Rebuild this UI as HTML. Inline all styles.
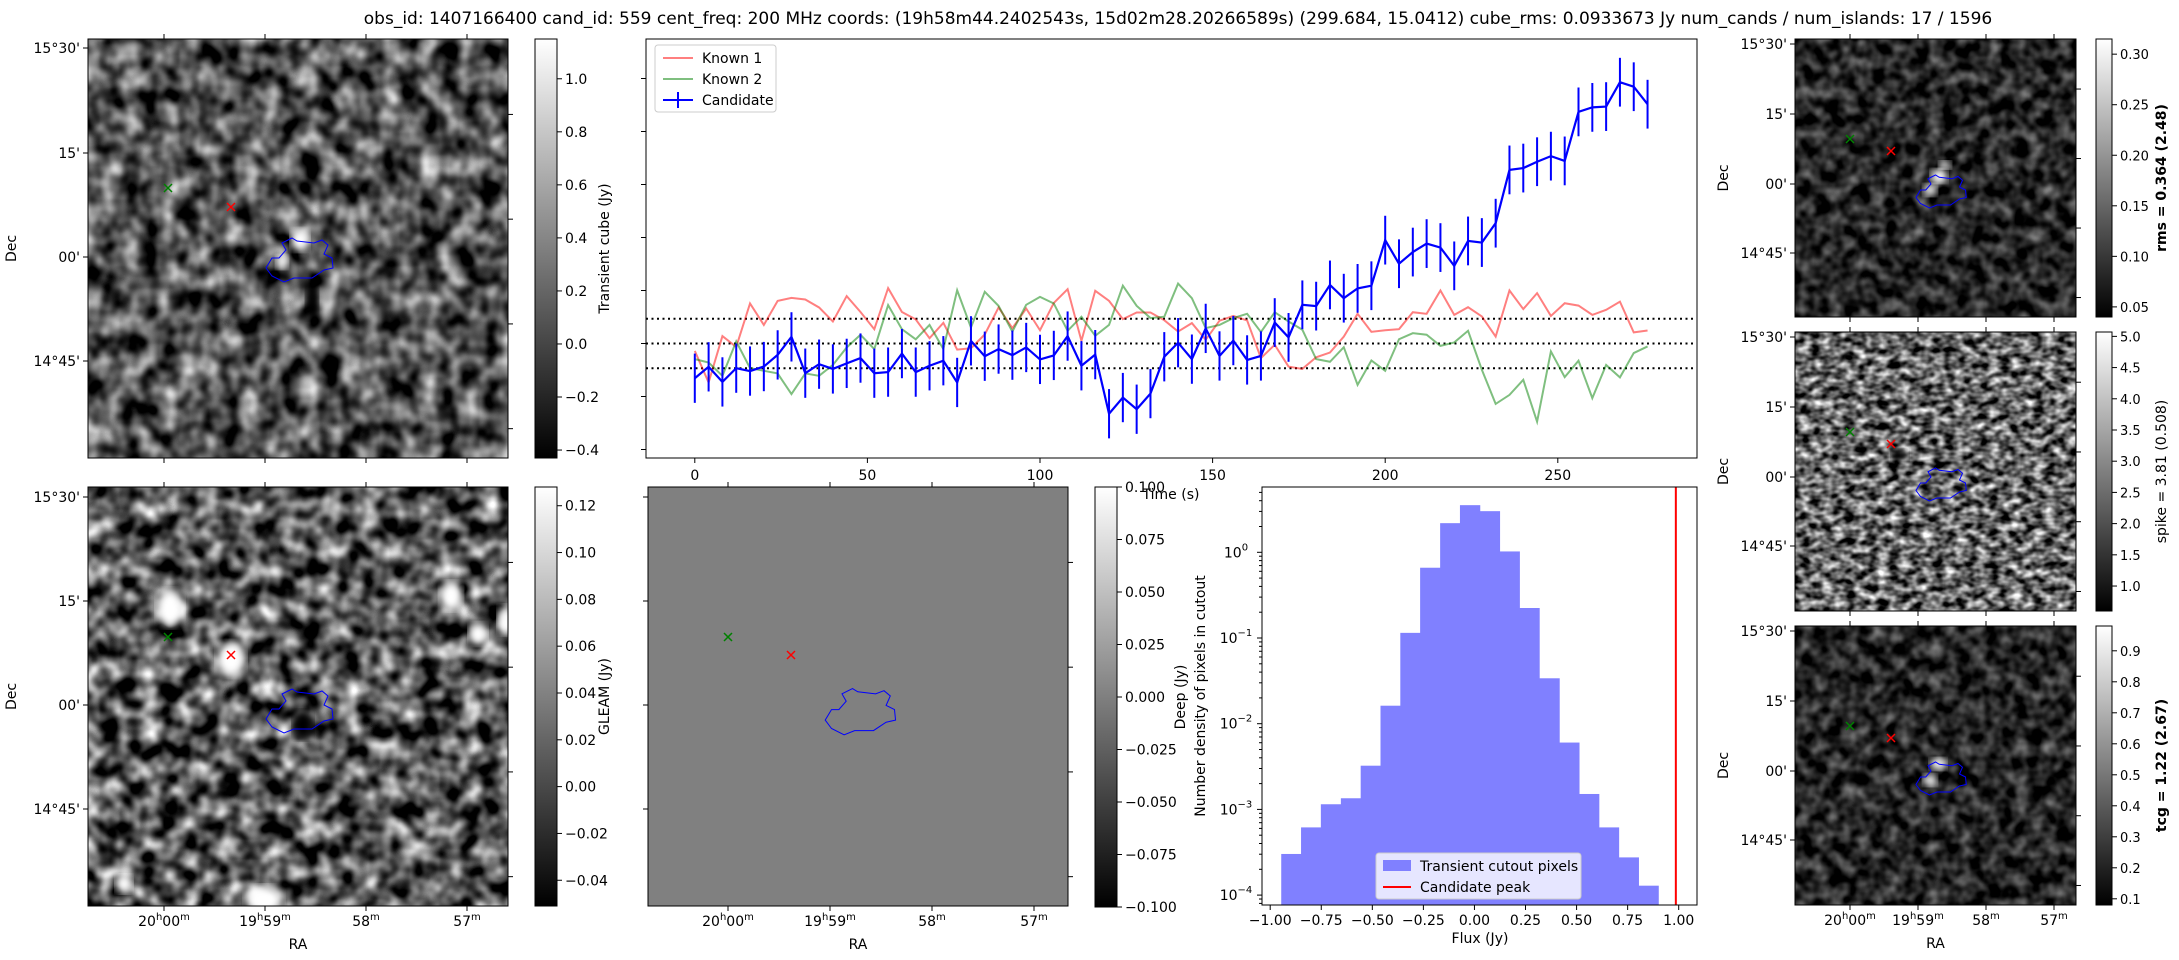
<!DOCTYPE html>
<html><head><meta charset="utf-8">
<style>
html,body{margin:0;padding:0;background:#fff;}
svg{display:block;font-family:"DejaVu Sans","Liberation Sans",sans-serif;}
text{fill:#000;}
filter{color-interpolation-filters:sRGB;}
</style></head>
<body>
<svg id="fig" xmlns="http://www.w3.org/2000/svg" width="2179" height="960" viewBox="0 0 2179 960">
<defs>
 <filter id="nz1" x="0" y="0" width="100%" height="100%" color-interpolation-filters="sRGB"><feTurbulence type="fractalNoise" baseFrequency="0.05 0.045" numOctaves="2" seed="3"/><feColorMatrix type="matrix" values="1.5 0 0 0 -0.42  1.5 0 0 0 -0.42  1.5 0 0 0 -0.42  0 0 0 0 1"/></filter>
 <filter id="nz2" x="0" y="0" width="100%" height="100%" color-interpolation-filters="sRGB"><feTurbulence type="fractalNoise" baseFrequency="0.05" numOctaves="2" seed="11"/><feColorMatrix type="matrix" values="1.8 0 0 0 -0.55  1.8 0 0 0 -0.55  1.8 0 0 0 -0.55  0 0 0 0 1"/></filter>
 <filter id="nz3" x="0" y="0" width="100%" height="100%" color-interpolation-filters="sRGB"><feTurbulence type="fractalNoise" baseFrequency="0.07" numOctaves="2" seed="5"/><feColorMatrix type="matrix" values="0.9 0 0 0 -0.3  0.9 0 0 0 -0.3  0.9 0 0 0 -0.3  0 0 0 0 1"/></filter>
 <filter id="nz4" x="0" y="0" width="100%" height="100%" color-interpolation-filters="sRGB"><feTurbulence type="fractalNoise" baseFrequency="0.09 0.13" numOctaves="2" seed="8"/><feColorMatrix type="matrix" values="1.8 0 0 0 -0.5  1.8 0 0 0 -0.5  1.8 0 0 0 -0.5  0 0 0 0 1"/></filter>
 <filter id="nz5" x="0" y="0" width="100%" height="100%" color-interpolation-filters="sRGB"><feTurbulence type="fractalNoise" baseFrequency="0.07" numOctaves="2" seed="21"/><feColorMatrix type="matrix" values="0.9 0 0 0 -0.3  0.9 0 0 0 -0.3  0.9 0 0 0 -0.3  0 0 0 0 1"/></filter>
 <filter id="blur4"><feGaussianBlur stdDeviation="4"/></filter>
 <linearGradient id="gray" x1="0" y1="1" x2="0" y2="0"><stop offset="0" stop-color="#000"/><stop offset="1" stop-color="#fff"/></linearGradient>
</defs>
<text x="1178" y="24" font-size="17" text-anchor="middle">obs_id: 1407166400 cand_id: 559 cent_freq: 200 MHz coords: (19h58m44.2402543s, 15d02m28.20266589s) (299.684, 15.0412) cube_rms: 0.0933673 Jy num_cands / num_islands: 17 / 1596</text>
<g id="panels"></g>
</svg>
<script>
// ---------- light curve data ----------
const times = [0,4,8,12,16,20,24,28,32,36,40,44,48,52,56,60,64,68,72,76,80,84,88,92,96,100,104,108,112,116,120,124,128,132,136,140,144,148,152,156,160,164,168,172,176,180,184,188,192,196,200,204,208,212,216,220,224,228,232,236,240,244,248,252,256,260,264,268,272,276];
const candidateFlux = [-0.131,-0.088,-0.145,-0.093,-0.104,-0.087,-0.043,0.025,-0.112,-0.078,-0.096,-0.075,-0.055,-0.112,-0.108,-0.038,-0.108,-0.084,-0.065,-0.147,0.010,-0.048,-0.021,-0.044,-0.015,-0.060,-0.045,0.028,-0.084,-0.042,-0.265,-0.204,-0.248,-0.189,-0.050,0.003,-0.059,0.057,-0.047,0.011,-0.062,-0.047,0.079,0.023,0.146,0.141,0.221,0.171,0.208,0.218,0.390,0.301,0.345,0.377,0.362,0.293,0.387,0.381,0.454,0.655,0.662,0.686,0.707,0.689,0.874,0.891,0.894,0.986,0.969,0.903];
const candidateErr = [0.093,0.093,0.093,0.093,0.093,0.093,0.093,0.093,0.093,0.093,0.093,0.093,0.093,0.093,0.093,0.093,0.093,0.093,0.093,0.093,0.093,0.093,0.093,0.093,0.093,0.093,0.093,0.093,0.093,0.093,0.093,0.093,0.093,0.093,0.093,0.093,0.093,0.093,0.093,0.093,0.093,0.093,0.092,0.092,0.092,0.092,0.092,0.092,0.092,0.092,0.092,0.092,0.092,0.092,0.092,0.092,0.092,0.092,0.092,0.092,0.092,0.092,0.092,0.092,0.092,0.092,0.092,0.092,0.092,0.092];
const known1Flux = [-0.028,-0.147,0.028,-0.013,0.151,0.070,0.161,0.172,0.166,0.136,0.083,0.179,0.119,0.054,0.209,0.119,0.091,0.020,0.078,-0.023,-0.018,0.034,0.136,0.058,0.132,0.050,0.153,0.205,0.010,0.199,0.161,0.092,0.117,0.117,0.088,0.045,0.077,0.014,0.086,0.104,0.087,-0.055,-0.005,-0.087,-0.096,-0.052,-0.034,0.026,0.112,0.044,0.050,0.054,0.118,0.112,0.200,0.108,0.137,0.102,0.026,0.200,0.130,0.190,0.104,0.152,0.143,0.108,0.127,0.158,0.042,0.049];
const known2Flux = [-0.059,-0.072,-0.122,0.008,-0.093,-0.103,-0.113,-0.191,-0.113,-0.122,-0.081,-0.015,0.033,-0.021,0.145,0.054,0.016,0.070,-0.021,0.201,0.060,0.195,0.142,0.045,0.146,0.176,0.151,0.048,0.101,0.029,0.070,0.218,0.142,0.096,0.101,0.226,0.171,0.058,0.070,0.096,0.112,0.043,0.118,0.083,0.052,-0.059,-0.069,-0.014,-0.156,-0.064,-0.103,0.016,0.039,0.033,-0.009,0.004,0.048,-0.099,-0.228,-0.194,-0.137,-0.295,-0.030,-0.127,-0.065,-0.206,-0.081,-0.128,-0.036,-0.011];
const cubeRms = 0.0934;
const lcXTicks = [0,50,100,150,200,250];
// ---------- histogram data ----------
const histEdges = [-0.946,-0.849,-0.752,-0.654,-0.557,-0.460,-0.363,-0.266,-0.168,-0.071,0.026,0.123,0.220,0.317,0.415,0.512,0.609,0.706,0.803,0.900];
const histLog10Density = [-3.52,-3.21,-2.94,-2.87,-2.49,-1.79,-0.94,-0.18,0.34,0.55,0.48,0.01,-0.65,-1.47,-2.22,-2.82,-3.21,-3.56,-3.89];
const candidatePeak = 0.986;
const histXTicks = [-1.00,-0.75,-0.50,-0.25,0.00,0.25,0.50,0.75,1.00];
const histYTickExp = [0,-1,-2,-3,-4];
// ---------- colorbar ticks ----------
const cbTransientTicks = [-0.4,-0.2,0.0,0.2,0.4,0.6,0.8,1.0];
const cbGleamTicks = [-0.04,-0.02,0.00,0.02,0.04,0.06,0.08,0.10,0.12];
const cbDeepTicks = [-0.100,-0.075,-0.050,-0.025,0.000,0.025,0.050,0.075,0.100];
const cbRmsTicks = [0.05,0.10,0.15,0.20,0.25,0.30];
const cbSpikeTicks = [1.0,1.5,2.0,2.5,3.0,3.5,4.0,4.5,5.0];
const cbTcgTicks = [0.1,0.2,0.3,0.4,0.5,0.6,0.7,0.8,0.9];

const NS='http://www.w3.org/2000/svg';
const root=document.getElementById('panels');
function el(tag,attrs,parent,txt){const e=document.createElementNS(NS,tag);for(const k in attrs)e.setAttribute(k,attrs[k]);if(txt!==undefined)e.textContent=txt;(parent||root).appendChild(e);return e;}

function imagePanel(name,x,y,w,h,filt,decLabels,decY,raX,showRA,opts){
  const g=el('g',{});
  
  
  el('clipPath',{id:'c'+name},g);
  el('rect',{x:x,y:y,width:w,height:h},g.lastChild);
  const ig=el('g',{'clip-path':'url(#c'+name+')'},g);
  if(filt){el('rect',{x:x,y:y,width:w,height:h,fill:'#000'},ig);el('rect',{x:x,y:y,width:w,height:h,filter:'url(#'+filt+')'},ig);}
  else el('rect',{x:x,y:y,width:w,height:h,fill:'#808080'},ig);
  (opts.blobs||[]).forEach(b=>{el('ellipse',{cx:b[0],cy:b[1],rx:b[2],ry:b[3],fill:'#fff',filter:'url(#blur4)'},ig);});
  (opts.darks||[]).forEach(b=>{el('ellipse',{cx:b[0],cy:b[1],rx:b[2],ry:b[3],fill:'#000',filter:'url(#blur4)'},ig);});
  el('rect',{x:x,y:y,width:w,height:h,fill:'none',stroke:'#000','stroke-width':1},g);
  const cp=el('path',{d:opts.contour,fill:'none',stroke:'#0000ff','stroke-width':1},g);
  
  
  const mk=(px,py,col,nm)=>{const m=el('path',{d:`M${px-4},${py-4}L${px+4},${py+4}M${px-4},${py+4}L${px+4},${py-4}`,stroke:col,'stroke-width':1.5},g);
    
    };
  mk(opts.green[0],opts.green[1],'#008000','known-source-2-marker');
  mk(opts.red[0],opts.red[1],'#ff0000','known-source-1-marker');
  const fs=opts.fs||14;
  decY.forEach((dy,i)=>{el('line',{x1:x-5,y1:dy,x2:x,y2:dy,stroke:'#000'},g);
    if(decLabels)el('text',{x:x-8,y:dy+5,'font-size':fs,'text-anchor':'end'},g,decLabels[i]);});
  [0.18,0.43,0.68,0.93].forEach(f=>{el('line',{x1:x+w,y1:y+h*f,x2:x+w+5,y2:y+h*f,stroke:'#000'},g);});
  raX.forEach(rx=>{el('line',{x1:rx,y1:y+h,x2:rx,y2:y+h+5,stroke:'#000'},g);el('line',{x1:rx,y1:y-5,x2:rx,y2:y,stroke:'#000'},g);});
  if(showRA){
    const lab=[['20','h','00','m'],['19','h','59','m'],['58','m'],['57','m']];
    raX.forEach((rx,i)=>{const t=el('text',{x:rx,y:y+h+20,'font-size':fs,'text-anchor':'middle'},g);
      const l=lab[i];for(let k=0;k<l.length;k++){const s=el('tspan',{},t,l[k]);if(k%2==1){s.setAttribute('dy','-6');s.setAttribute('font-size','10');}else if(k>0){s.setAttribute('dy','6');}}});
    el('text',{x:x+w/2,y:y+h+43,'font-size':14,'text-anchor':'middle'},g,'RA');
  }
  if(opts.decTitle)el('text',{x:opts.decTitle,y:y+h/2,'font-size':14,'text-anchor':'middle',transform:`rotate(-90 ${opts.decTitle} ${y+h/2})`},g,'Dec');
  return g;
}
function colorbar(name,x,y,w,h,ticks,vmin,vmax,fmt,label,labX,bold,fs){
  const g=el('g',{});
  
  
  el('rect',{x:x,y:y,width:w,height:h,fill:'url(#gray)',stroke:'#000','stroke-width':1},g);
  const yc=v=>y+h-(v-vmin)/(vmax-vmin)*h;
  ticks.forEach(t=>{const ty=yc(t);el('line',{x1:x+w,y1:ty,x2:x+w+5,y2:ty,stroke:'#000'},g);
    el('text',{x:x+w+8,y:ty+5,'font-size':fs||14},g,fmt(t));});
  const lt=el('text',{x:labX,y:y+h/2,'font-size':14,'text-anchor':'middle','font-weight':bold?'bold':'normal',transform:`rotate(-90 ${labX} ${y+h/2})`},g,label);
  
  
}
const decL=["15°30'","15'","00'","14°45'"];
const contourBig=(ox,oy,s)=>{const p=[[0,-3],[10,-8],[15,-5],[32,-3],[40,-6],[46,-1],[42,8],[50,12],[51,22],[42,24],[30,32],[12,32],[2,36],[-10,30],[-16,22],[-10,12],[-3,12],[4,4]];return 'M'+p.map(q=>(ox+q[0]*s)+','+(oy+q[1]*s)).join('L')+'Z';};

imagePanel('transient-cube-image',88,39,420,419,'nz1',decL,[48,153,257,361],[164,265,366,467],false,
  {green:[168,188],red:[231,207],contour:contourBig(282,246,1),blobs:[[300,240,9,11],[282,262,6,7]],darks:[[312,300,6,18]],decTitle:16});
colorbar('transient-colorbar',535,39,22,419,cbTransientTicks,-0.43,1.15,v=>v.toFixed(1).replace('-','−'),'Transient cube (Jy)',609,false);
imagePanel('gleam-image',88,487,420,419,'nz2',decL,[497,601,705,809],[164,265,366,467],true,
  {green:[168,637],red:[231,655],contour:contourBig(282,697,1),blobs:[[170,608,13,18],[231,659,14,17],[451,596,11,14],[478,634,9,11],[506,620,8,14],[124,884,8,9],[264,900,18,14]],darks:[[303,725,10,14]],decTitle:16});
colorbar('gleam-colorbar',535,487,22,419,cbGleamTicks,-0.051,0.128,v=>v.toFixed(2).replace('-','−'),'GLEAM (Jy)',609,false);
imagePanel('deep-image',648,487,420,419,null,null,[497,601,705,809],[728,830,932,1034],true,
  {green:[728,637],red:[791,655],contour:contourBig(842,697,1.05)});
colorbar('deep-colorbar',1095,487,22,420,cbDeepTicks,-0.1,0.1,v=>v.toFixed(3).replace('-','−'),'Deep (Jy)',1185,false);
const rDec=(y0)=>[y0+5,y0+75,y0+145,y0+214];
imagePanel('rms-image',1795,39,281,278,'nz3',decL,rDec(39),[1850,1918,1986,2054],false,
  {green:[1850,139],red:[1891,151],contour:contourBig(1928,181,0.75),blobs:[[1939,176,8,7],[1930,190,7,6],[1945,165,6,4]],decTitle:1728});
colorbar('rms-colorbar',2096,39,16,278,cbRmsTicks,0.04,0.315,v=>v.toFixed(2),'rms = 0.364 (2.48)',2166,true,13);
imagePanel('spike-image',1795,332,281,279,'nz4',decL,rDec(332),[1850,1918,1986,2054],false,
  {green:[1850,432],red:[1891,444],contour:contourBig(1928,474,0.75),darks:[[1900,455,8,6]],decTitle:1728});
colorbar('spike-colorbar',2096,332,16,279,cbSpikeTicks,0.6,5.07,v=>v.toFixed(1),'spike = 3.81 (0.508)',2166,false,13);
imagePanel('tcg-image',1795,626,281,279,'nz5',decL,rDec(626),[1850,1918,1986,2054],true,
  {green:[1850,726],red:[1891,738],contour:contourBig(1928,768,0.75),blobs:[[1938,764,8,6],[1930,780,7,6]],decTitle:1728});
colorbar('tcg-colorbar',2096,626,16,279,cbTcgTicks,0.08,0.98,v=>v.toFixed(1),'tcg = 1.22 (2.67)',2166,true,13);

// ---------- light curve ----------
const LX0=646,LX1=1697,LY0=39,LY1=458;
const xL=t=>694.8+3.452*t;
const yL=v=>343.5-265*v;
const lc=el('g',{});


el('clipPath',{id:'clc'},lc);el('rect',{x:LX0,y:LY0,width:LX1-LX0,height:LY1-LY0},lc.lastChild);
const lcp=el('g',{'clip-path':'url(#clc)'},lc);
[cubeRms,0,-cubeRms].forEach((v,i)=>{const l=el('line',{x1:LX0,x2:LX1,y1:yL(v),y2:yL(v),stroke:'#000','stroke-width':2,'stroke-dasharray':'2,3.5'},lcp);
  
  });
const line=(arr,col,op,nm,w)=>{const p=el('polyline',{points:arr.map((v,i)=>xL(times[i])+','+yL(v)).join(' '),fill:'none',stroke:col,'stroke-opacity':op,'stroke-width':w},lcp);
  
  };
line(known1Flux,'#ff0000',0.5,'known-1-line',2);
line(known2Flux,'#008000',0.5,'known-2-line',2);
candidateFlux.forEach((v,i)=>{const eb=el('line',{x1:xL(times[i]),x2:xL(times[i]),y1:yL(v-candidateErr[i]),y2:yL(v+candidateErr[i]),stroke:'#0000ff','stroke-width':2},lcp);
  
  });
line(candidateFlux,'#0000ff',1,'candidate-line',2.2);
el('rect',{x:LX0,y:LY0,width:LX1-LX0,height:LY1-LY0,fill:'none',stroke:'#000'},lc);
lcXTicks.forEach(t=>{el('line',{x1:xL(t),x2:xL(t),y1:LY1,y2:LY1+5,stroke:'#000'},lc);el('text',{x:xL(t),y:LY1+22,'font-size':14,'text-anchor':'middle'},lc,String(t));});
cbTransientTicks.forEach(v=>{el('line',{x1:LX0-5,x2:LX0,y1:yL(v),y2:yL(v),stroke:'#000'},lc);});
el('text',{x:1171,y:499,'font-size':14,'text-anchor':'middle'},lc,'Time (s)');
const lg=el('g',{},lc);


el('rect',{x:655,y:45,width:121,height:67,rx:3,fill:'#fff','fill-opacity':0.8,stroke:'#ccc'},lg);
[['Known 1','#ff0000',0.5],['Known 2','#008000',0.5],['Candidate','#0000ff',1]].forEach((r,i)=>{const yy=58+i*21;
  el('line',{x1:663,x2:693,y1:yy,y2:yy,stroke:r[1],'stroke-opacity':r[2],'stroke-width':2},lg);
  if(i==2)el('line',{x1:678,x2:678,y1:yy-8,y2:yy+8,stroke:r[1],'stroke-width':2},lg);
  el('text',{x:702,y:yy+5,'font-size':14},lg,r[0]);});

// ---------- histogram ----------
const HX0=1262,HX1=1697,HY0=487,HY1=905;
const xH=f=>1270.2+204.25*(f+1);
const yH=lg10=>552.3-85.7*lg10;
const hg=el('g',{});


el('clipPath',{id:'chg'},hg);el('rect',{x:HX0,y:HY0,width:HX1-HX0,height:HY1-HY0},hg.lastChild);
const hp=el('g',{'clip-path':'url(#chg)'},hg);
histLog10Density.forEach((d,i)=>{const x0=xH(histEdges[i]),x1=xH(histEdges[i+1]);
  const b=el('rect',{x:x0,y:yH(d),width:x1-x0+0.5,height:HY1-yH(d),fill:'#8080ff'},hp);
  
  });
const pk=el('line',{x1:xH(candidatePeak),x2:xH(candidatePeak),y1:HY0,y2:HY1,stroke:'#ff0000','stroke-width':2},hp);


el('rect',{x:HX0,y:HY0,width:HX1-HX0,height:HY1-HY0,fill:'none',stroke:'#000'},hg);
histXTicks.forEach(t=>{el('line',{x1:xH(t),x2:xH(t),y1:HY1,y2:HY1+5,stroke:'#000'},hg);el('text',{x:xH(t),y:HY1+20,'font-size':14,'text-anchor':'middle'},hg,t.toFixed(2).replace('-','−'));});
histYTickExp.forEach(e=>{const yy=yH(e);el('line',{x1:HX0-5,x2:HX0,y1:yy,y2:yy,stroke:'#000'},hg);
  const t=el('text',{x:HX0-26,y:yy+5,'font-size':14,'text-anchor':'middle'},hg,'10');
  el('tspan',{dy:-7,'font-size':10},t,String(e).replace('-','−'));
  for(let m=2;m<10;m++){const my=yH(e-1+Math.log10(m));if(my>HY0&&my<HY1)el('line',{x1:HX0-3,x2:HX0,y1:my,y2:my,stroke:'#000'},hg);}
  if(e==0){for(let m=2;m<10;m++){const my=yH(Math.log10(m));if(my>HY0&&my<HY1)el('line',{x1:HX0-3,x2:HX0,y1:my,y2:my,stroke:'#000'},hg);}}});
el('text',{x:1205,y:696,'font-size':14,'text-anchor':'middle',transform:'rotate(-90 1205 696)'},hg,'Number density of pixels in cutout');
el('text',{x:1480,y:943,'font-size':14,'text-anchor':'middle'},hg,'Flux (Jy)');
const hl=el('g',{},hg);


el('rect',{x:1376,y:853,width:205,height:46,rx:3,fill:'#fff','fill-opacity':0.8,stroke:'#ccc'},hl);
el('rect',{x:1383,y:860,width:28,height:11,fill:'#8080ff'},hl);
el('text',{x:1420,y:871,'font-size':14},hl,'Transient cutout pixels');
el('line',{x1:1383,x2:1411,y1:887,y2:887,stroke:'#ff0000','stroke-width':2},hl);
el('text',{x:1420,y:892,'font-size':14},hl,'Candidate peak');
</script>
</body></html>
